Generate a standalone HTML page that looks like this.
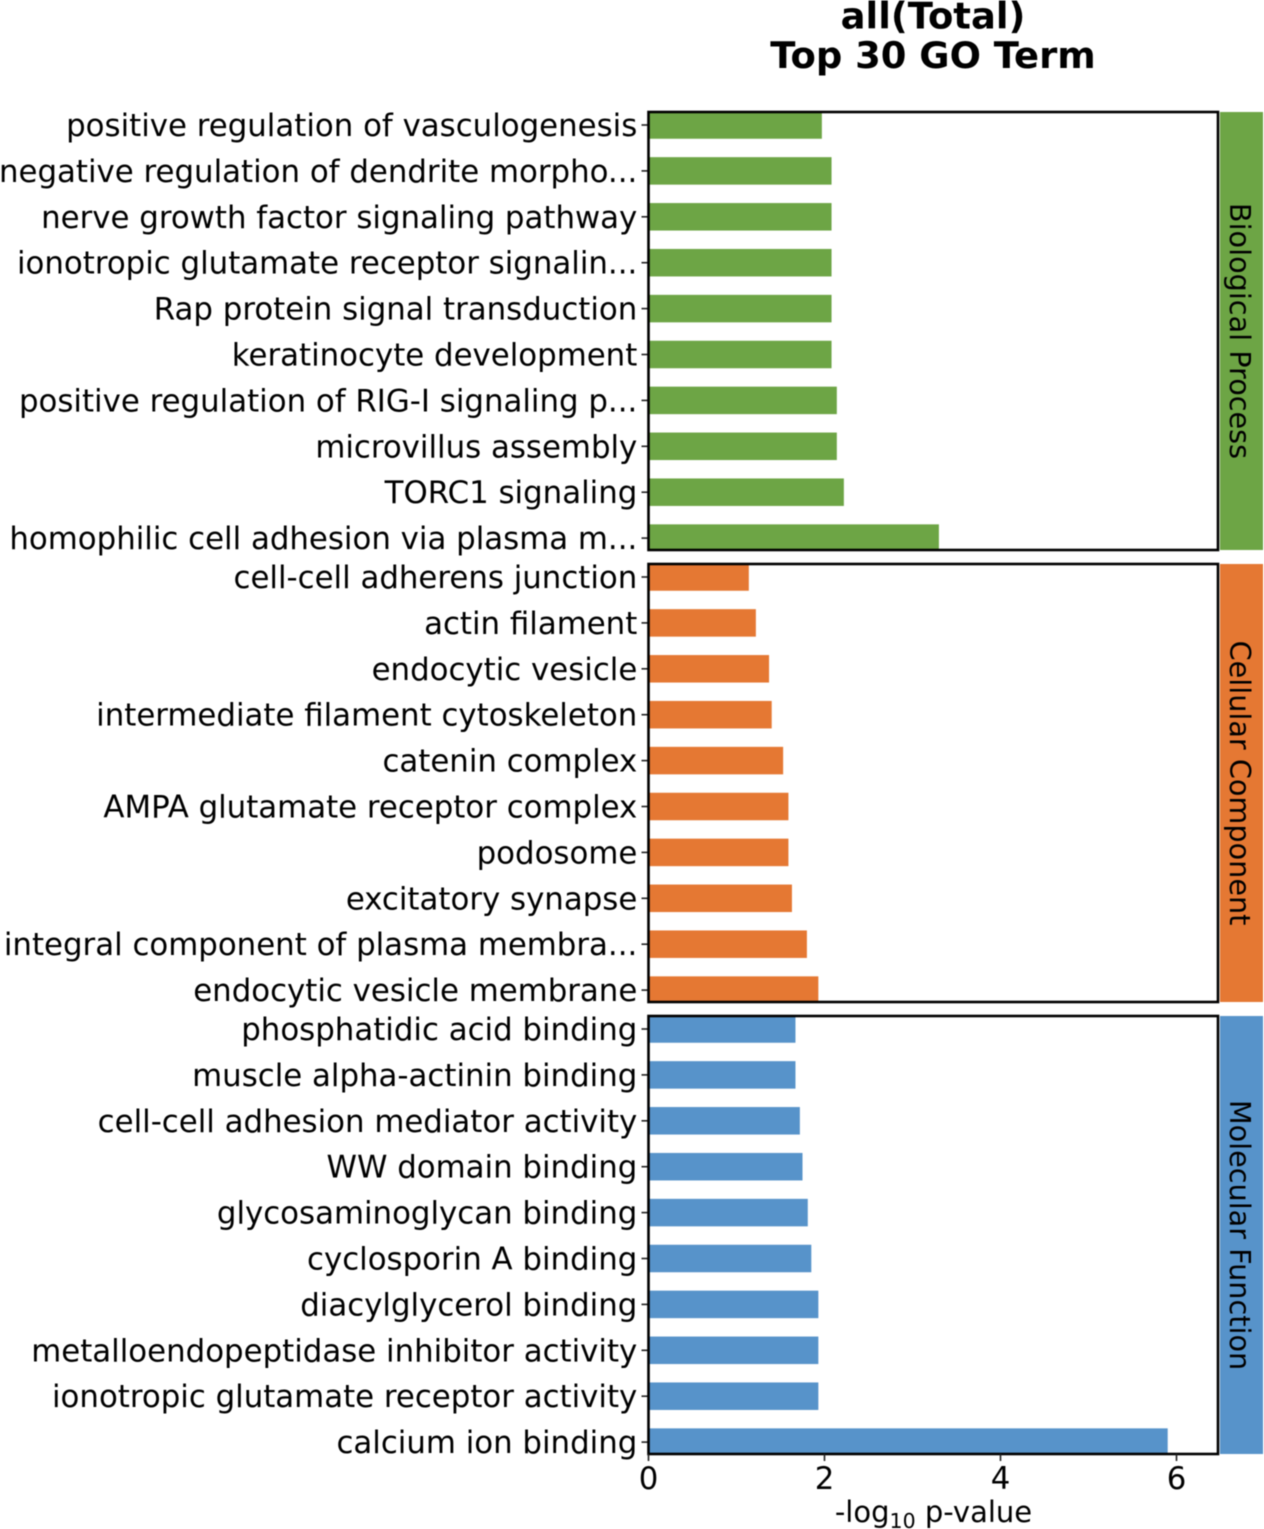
<!DOCTYPE html>
<html lang="en">
<head>
<meta charset="utf-8">
<title>all(Total) Top 30 GO Term</title>
<style>
html,body{margin:0;padding:0;background:#fff;}
svg{display:block;filter:blur(0.45px);}
text{font-family:"DejaVu Sans","Liberation Sans",sans-serif;fill:#000;}
</style>
</head>
<body>
<svg id="chart" xmlns="http://www.w3.org/2000/svg" width="1264" height="1529" viewBox="0 0 1264 1529">
<rect x="0" y="0" width="1264" height="1529" fill="#fff"/>
<text x="933" y="28.5" text-anchor="middle" font-size="36.9" font-weight="bold">all(Total)</text>
<text x="933" y="68" text-anchor="middle" font-size="36.9" font-weight="bold">Top 30 GO Term</text>
<text x="933.5" y="1522" text-anchor="middle" font-size="29">-log<tspan font-size="20.5" dy="6">10</tspan><tspan dy="-6"> p-value</tspan></text>
</svg>
<script>
const bpTerms = ["positive regulation of vasculogenesis","negative regulation of dendrite morpho...","nerve growth factor signaling pathway","ionotropic glutamate receptor signalin...","Rap protein signal transduction","keratinocyte development","positive regulation of RIG-I signaling p...","microvillus assembly","TORC1 signaling","homophilic cell adhesion via plasma m..."];
const bpValues = [1.97,2.08,2.08,2.08,2.08,2.08,2.14,2.14,2.22,3.30];
const ccTerms = ["cell-cell adherens junction","actin filament","endocytic vesicle","intermediate filament cytoskeleton","catenin complex","AMPA glutamate receptor complex","podosome","excitatory synapse","integral component of plasma membra...","endocytic vesicle membrane"];
const ccValues = [1.14,1.22,1.37,1.40,1.53,1.59,1.59,1.63,1.80,1.93];
const mfTerms = ["phosphatidic acid binding","muscle alpha-actinin binding","cell-cell adhesion mediator activity","WW domain binding","glycosaminoglycan binding","cyclosporin A binding","diacylglycerol binding","metalloendopeptidase inhibitor activity","ionotropic glutamate receptor activity","calcium ion binding"];
const mfValues = [1.67,1.67,1.72,1.75,1.81,1.85,1.93,1.93,1.93,5.90];
const categoryNames = ["Biological Process","Cellular Component","Molecular Function"];
const categoryColors = ["#6da545","#e57833","#5793ca"];
const xTicks = [0,2,4,6];

const NS = "http://www.w3.org/2000/svg";
const svg = document.getElementById("chart");
const plotLeft = 648.5, plotRight = 1218, pxPerUnit = 88;
const panelTops = [112,564,1016];
const panelHeight = 438;
const rowStep = 45.9;
const barHeight = 27.5;
const firstRowOffset = 13;
const xScale = function (v) { return plotLeft + v * pxPerUnit; };
const yScale = function (panel, i) { return panelTops[panel] + firstRowOffset + i * rowStep; };

function make(tag, attrs, parent) {
  const el = document.createElementNS(NS, tag);
  Object.keys(attrs).forEach(function (k) { el.setAttribute(k, attrs[k]); });
  (parent || svg).appendChild(el);
  return el;
}

const groups = [[bpTerms, bpValues],[ccTerms, ccValues],[mfTerms, mfValues]];
const defs = make("defs", {});
groups.forEach(function (group, p) {
  const clip = make("clipPath", {id: "panel-clip-" + p}, defs);
  make("rect", {x: plotLeft, y: panelTops[p], width: plotRight - plotLeft, height: panelHeight}, clip);

  const strip = make("rect", {x: 1220, y: panelTops[p], width: 43, height: panelHeight, fill: categoryColors[p]});
  
  

  const cx = 1240, cy = panelTops[p] + panelHeight / 2;
  const stripLabel = make("text", {x: cx, y: cy, "text-anchor": "middle", "dominant-baseline": "central", "font-size": 28.7, fill: "#1a1a1a", transform: "rotate(90 " + cx + " " + cy + ")"});
  stripLabel.textContent = categoryNames[p];
  
  

  group[0].forEach(function (term, i) {
    const y = yScale(p, i);
    const bar = make("rect", {x: xScale(0), y: y - barHeight / 2, width: xScale(group[1][i]) - xScale(0), height: barHeight, fill: categoryColors[p], "clip-path": "url(#panel-clip-" + p + ")"});
    
    

    const tick = make("line", {x1: plotLeft - 7, x2: plotLeft, y1: y, y2: y, stroke: "#222", "stroke-width": 1.6});
    
    

    const label = make("text", {x: 637.3, y: y + 11, "text-anchor": "end", "font-size": 30.82});
    label.textContent = term;
    
    
  });

  const frame = make("rect", {x: plotLeft, y: panelTops[p], width: plotRight - plotLeft, height: panelHeight, fill: "none", stroke: "#000", "stroke-width": 2.6});
  
  
});

xTicks.forEach(function (t) {
  const x = xScale(t);
  const tick = make("line", {x1: x, x2: x, y1: panelTops[2] + panelHeight, y2: panelTops[2] + panelHeight + 7, stroke: "#222", "stroke-width": 1.6});
  
  

  const label = make("text", {x: x, y: 1489, "text-anchor": "middle", "font-size": 30.77});
  label.textContent = String(t);
  
  
});
</script>
</body>
</html>
